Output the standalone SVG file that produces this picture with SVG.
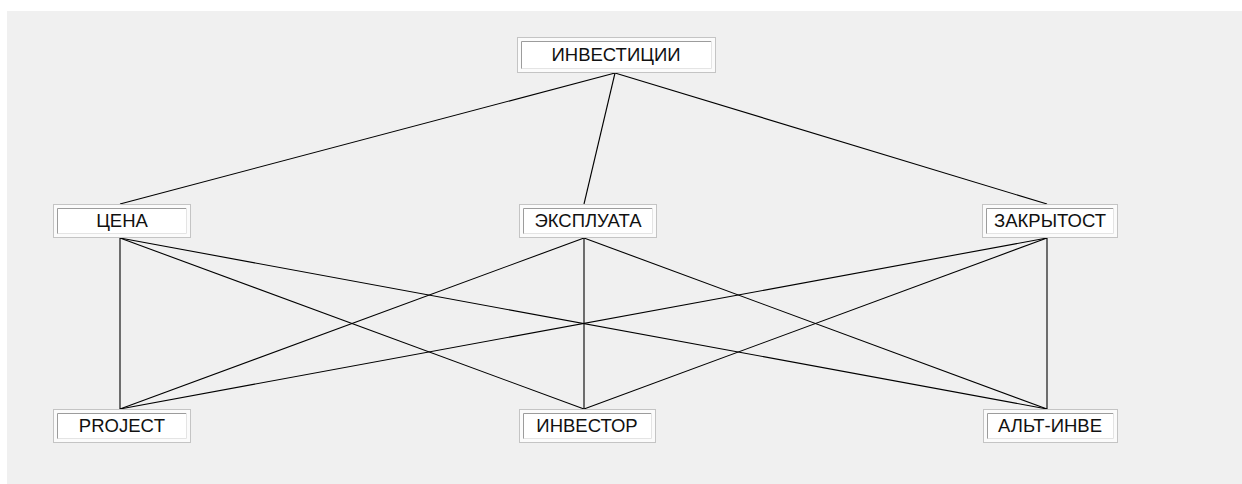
<svg xmlns="http://www.w3.org/2000/svg" width="1242" height="484" viewBox="0 0 1242 484">
  <style>
    .frame { fill: #fbfbfb; stroke: #c4c4c4; stroke-width: 1; }
    .field { fill: #ffffff; }
    .dark { stroke: #9c9c9c; stroke-width: 1; fill: none; }
    .light { stroke: #e4e4e4; stroke-width: 1; fill: none; }
    .label { font-family: "Liberation Sans", Arial, sans-serif; font-size: 18.5px; fill: #111111; text-anchor: middle; }
    .edge { stroke: #000000; stroke-width: 1.1; fill: none; }
  </style>

  <!-- panel -->
  <rect x="0" y="0" width="1242" height="484" fill="#ffffff"/>
  <rect x="7" y="11" width="1235" height="473" fill="#f0f0f0"/>

  <!-- connectors -->
  <g id="connectors">
    <line class="edge" x1="615" y1="73" x2="120" y2="204"/>
    <line class="edge" x1="615" y1="73" x2="584" y2="204"/>
    <line class="edge" x1="615" y1="73" x2="1047" y2="204"/>

    <line class="edge" x1="120" y1="238" x2="120" y2="409"/>
    <line class="edge" x1="120" y1="238" x2="584" y2="409"/>
    <line class="edge" x1="120" y1="238" x2="1047" y2="409"/>

    <line class="edge" x1="584" y1="238" x2="120" y2="409"/>
    <line class="edge" x1="584" y1="238" x2="584" y2="409"/>
    <line class="edge" x1="584" y1="238" x2="1047" y2="409"/>

    <line class="edge" x1="1047" y1="238" x2="120" y2="409"/>
    <line class="edge" x1="1047" y1="238" x2="584" y2="409"/>
    <line class="edge" x1="1047" y1="238" x2="1047" y2="409"/>
  </g>

  <!-- top -->
  <g id="node-investicii">
    <rect class="frame" x="517.5" y="37.5" width="198" height="35"/>
    <rect class="field" x="521" y="41" width="191" height="28"/>
    <path class="dark" d="M521.5 69 V41.5 H712"/>
    <path class="light" d="M521.5 68.5 H711.5 V41"/>
    <text class="label" x="616" y="61">ИНВЕСТИЦИИ</text>
  </g>

  <!-- middle row -->
  <g id="node-cena">
    <rect class="frame" x="53.5" y="204.5" width="137" height="33"/>
    <rect class="field" x="57" y="208" width="130" height="26"/>
    <path class="dark" d="M57.5 234 V208.5 H187"/>
    <path class="light" d="M57.5 233.5 H186.5 V208"/>
    <text class="label" x="122" y="227">ЦЕНА</text>
  </g>

  <g id="node-ekspluata">
    <rect class="frame" x="519.5" y="204.5" width="137" height="33"/>
    <rect class="field" x="523" y="208" width="130" height="26"/>
    <path class="dark" d="M523.5 234 V208.5 H653"/>
    <path class="light" d="M523.5 233.5 H652.5 V208"/>
    <text class="label" x="588" y="227">ЭКСПЛУАТА</text>
  </g>

  <g id="node-zakrytost">
    <rect class="frame" x="982.5" y="204.5" width="135" height="33"/>
    <rect class="field" x="986" y="208" width="128" height="26"/>
    <path class="dark" d="M986.5 234 V208.5 H1114"/>
    <path class="light" d="M986.5 233.5 H1113.5 V208"/>
    <text class="label" x="1050" y="227">ЗАКРЫТОСТ</text>
  </g>

  <!-- bottom row -->
  <g id="node-project">
    <rect class="frame" x="53.5" y="409.5" width="137" height="33"/>
    <rect class="field" x="57" y="413" width="130" height="26"/>
    <path class="dark" d="M57.5 439 V413.5 H187"/>
    <path class="light" d="M57.5 438.5 H186.5 V413"/>
    <text class="label" x="122" y="432">PROJECT</text>
  </g>

  <g id="node-investor">
    <rect class="frame" x="519.5" y="409.5" width="136" height="33"/>
    <rect class="field" x="523" y="413" width="129" height="26"/>
    <path class="dark" d="M523.5 439 V413.5 H652"/>
    <path class="light" d="M523.5 438.5 H651.5 V413"/>
    <text class="label" x="587" y="432">ИНВЕСТОР</text>
  </g>

  <g id="node-alt-inve">
    <rect class="frame" x="983.5" y="409.5" width="134" height="33"/>
    <rect class="field" x="987" y="413" width="127" height="26"/>
    <path class="dark" d="M987.5 439 V413.5 H1114"/>
    <path class="light" d="M987.5 438.5 H1113.5 V413"/>
    <text class="label" x="1050" y="432">АЛЬТ-ИНВЕ</text>
  </g>
</svg>
